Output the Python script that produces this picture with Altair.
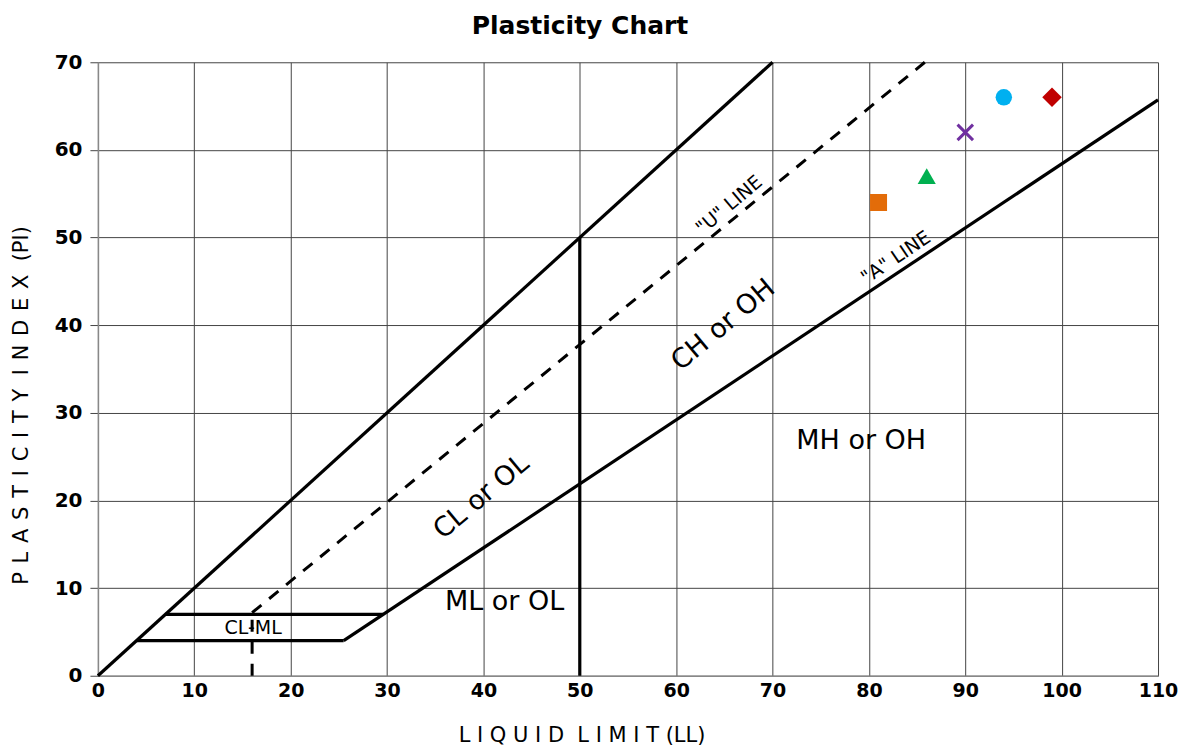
import altair as alt
import pandas as pd

# Boundary segments (LL, PI)
seg_x = [0, 4, 7, 25.5, 50]
seg_y = [0, 4, 7, 4, 0]
seg_x2 = [70, 25.5, 29.6, 110, 50]
seg_y2 = [70, 4, 7, 65.7, 50]

dash_x = [16, 16]
dash_y = [0, 7.2]
dash_x2 = [16, 85.8]
dash_y2 = [7.2, 70]

# Samples
pt_ll = [81, 86, 90, 94, 99]
pt_pi = [54, 57, 62, 66, 66]
pt_shape = ["square", "triangle-up", "cross", "circle", "diamond"]
pt_color = ["#E36C09", "#00B050", "#7030A0", "#00B0F0", "#C00000"]

# Labels
lab_text = ["MH or OH", "ML or OL", "CL or OL", "CH or OH"]
lab_x = [79.2, 42.2, 39.8, 64.9]
lab_y = [26.8, 8.4, 20.4, 40.0]
lab_angle = [0, 0, 320, 320]

small_text = ["CL-ML", '"U" LINE', '"A" LINE']
small_x = [16.1, 65.5, 82.8]
small_y = [5.5, 53.7, 47.7]
small_angle = [0, 320, 326]

NB = "\u00a0"
HS = "\u200a"
SEP = NB + HS
x_title = NB.join("LIQUID") + NB * 2 + NB.join("LIMIT") + NB + "(LL)"
y_title = SEP.join("PLASTICITY") + NB * 2 + SEP.join("INDEX") + NB * 2 + "(PI)"

FONT = "DejaVu Sans"
SIZE_BY_SHAPE = {"square": 290, "triangle-up": 330, "circle": 270, "diamond": 380}

xs = alt.Scale(domain=[0, 110], nice=False, zero=False)
ys = alt.Scale(domain=[0, 70], nice=False, zero=False)

segs = pd.DataFrame({"x": seg_x, "y": seg_y, "x2": seg_x2, "y2": seg_y2})
dashes = pd.DataFrame({"x": dash_x, "y": dash_y, "x2": dash_x2, "y2": dash_y2})
pts = pd.DataFrame({"ll": pt_ll, "pi": pt_pi, "shape": pt_shape, "color": pt_color})
pts["sz"] = pts["shape"].map(SIZE_BY_SHAPE).fillna(250)
labs = pd.DataFrame({"t": lab_text, "x": lab_x, "y": lab_y, "a": lab_angle})
smalls = pd.DataFrame({"t": small_text, "x": small_x, "y": small_y, "a": small_angle})

base_axes = alt.Chart(segs).mark_rule(strokeWidth=3.2, color="black").encode(
    x=alt.X("x:Q", scale=xs, axis=alt.Axis(
        values=list(range(0, 111, 10)), title=x_title,
        titleX=484, titleY=60, titleBaseline="middle", titleAnchor="start",
        titleAlign="center", titleFontSize=21, titleFontWeight="normal",
        labelFontSize=19, labelFontWeight="bold", labelPadding=6, labelFlush=False,
        ticks=False, grid=True, gridColor="#444", gridWidth=1,
        domainColor="#888", domainWidth=1.5, labelColor="black", titleColor="black")),
    y=alt.Y("y:Q", scale=ys, axis=alt.Axis(
        values=list(range(0, 71, 10)), title=y_title,
        titleX=-76, titleY=343, titleBaseline="middle", titleAlign="center",
        titleAngle=270, titleFontSize=21, titleFontWeight="normal",
        labelFontSize=20, labelFontWeight="bold", labelPadding=8, labelFlush=False,
        ticks=True, tickSize=8, tickColor="#444", grid=True, gridColor="#444",
        gridWidth=1, domainColor="#888", domainWidth=1.5,
        labelColor="black", titleColor="black")),
    x2="x2:Q", y2="y2:Q",
)

dashed = alt.Chart(dashes).mark_rule(strokeWidth=3, color="black", strokeDash=[12, 10]).encode(
    x=alt.X("x:Q", scale=xs), y=alt.Y("y:Q", scale=ys), x2="x2:Q", y2="y2:Q")

cross = alt.Chart(pts[pts["shape"] == "cross"]).mark_point(
    shape="M-1,-1L1,1M-1,1L1,-1", filled=False, size=240, strokeWidth=3, opacity=1).encode(
    x=alt.X("ll:Q", scale=xs), y=alt.Y("pi:Q", scale=ys),
    color=alt.Color("color:N", scale=None))
points = alt.Chart(pts[pts["shape"] != "cross"]).mark_point(filled=True, opacity=1).encode(
    x=alt.X("ll:Q", scale=xs), y=alt.Y("pi:Q", scale=ys),
    shape=alt.Shape("shape:N", scale=None),
    color=alt.Color("color:N", scale=None),
    size=alt.Size("sz:Q", scale=None),
)

big_labels = alt.Chart(labs).mark_text(fontSize=27, font=FONT, color="black",
                                       align="center", baseline="middle").encode(
    x=alt.X("x:Q", scale=xs), y=alt.Y("y:Q", scale=ys), text="t:N", angle=alt.Angle("a:Q", scale=None))

small_labels = alt.Chart(smalls).mark_text(fontSize=19, font=FONT, color="black",
                                           align="center", baseline="middle").encode(
    x=alt.X("x:Q", scale=xs), y=alt.Y("y:Q", scale=ys), text="t:N", angle=alt.Angle("a:Q", scale=None))

chart = alt.layer(base_axes, dashed, points, cross, big_labels, small_labels).properties(
    width=1061, height=614,
    title=alt.TitleParams("Plasticity Chart", fontSize=25, fontWeight="bold", font=FONT,
                          anchor="middle", dx=-48, offset=13, color="black"),
    autosize=alt.AutoSizeParams(type="none"),
    padding={"left": 90, "top": 54, "right": 20, "bottom": 70},
).configure_view(stroke=None).configure_axis(labelFont=FONT, titleFont=FONT)

chart.save("out.html", embed_options={"renderer": "svg", "actions": False})
